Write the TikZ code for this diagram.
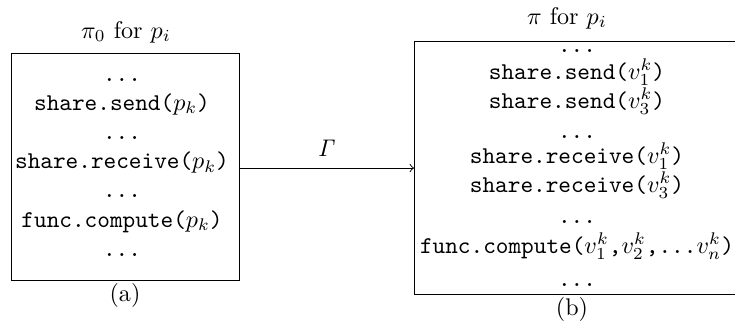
\documentclass[tikz,border=0pt]{standalone}
\begin{document}
\begin{tikzpicture}[x=0.415pt,y=-0.415pt,
  boxst/.style={draw,inner sep=0pt,anchor=north west},
  codeline/.style={anchor=base,font=\ttfamily,inner sep=0pt},
  codepair/.style={anchor=base,align=center,inner sep=0pt,
    font=\ttfamily\fontsize{10pt}{10.6pt}\selectfont},
  caplbl/.style={anchor=base,inner sep=0pt}]
\useasboundingbox (0,0) rectangle (735,327);
% box (a)
\node[boxst,minimum width=228*0.415pt,minimum height=227*0.415pt] (A) at (11,53) {};
\node[codeline] (a1) at (122,81) {...};
\node[codeline] (a2) at (122,110.2) {share.send($p_k$)};
\node[codeline] (a3) at (122,139.4) {...};
\node[codeline] (a4) at (122,168.6) {share.receive($p_k$)};
\node[codeline] (a5) at (122,197.8) {...};
\node[codeline] (a6) at (122,227) {func.compute($p_k$)};
\node[codeline] (a7) at (122,256.2) {...};
\node[caplbl] (ta) at (126,38) {$\pi_0$ for $p_i$};
\node[caplbl] (la) at (125,301.5) {(a)};
% box (b)
\node[boxst,minimum width=326*0.415pt,minimum height=253*0.415pt] (B) at (414,41) {};
\node[codeline] (b1) at (577,52) {...};
\node[codepair] (b2) at (577,108.3) {share.send($v_1^k$)\\share.send($v_3^k$)};
\node[codeline] (b4) at (577,138.5) {...};
\node[codepair] (b5) at (577,192.3) {share.receive($v_1^k$)\\share.receive($v_3^k$)};
\node[codeline] (b7) at (577,223.5) {...};
\node[codeline] (b8) at (577,253.3) {func.compute($v_1^k$,$v_2^k$,...$v_n^k$)};
\node[codeline] (b9) at (577,286.5) {...};
\node[caplbl] (tb) at (567,24) {$\pi$ for $p_i$};
\node[caplbl] (lb) at (572,315.7) {(b)};
% arrow
\coordinate (ay) at (0,168);
\draw[->] (A.east |- ay) -- node[caplbl,above=4.5pt] (g) {$\mathit{\Gamma}$} (B.west |- ay);
\end{tikzpicture}
\end{document}
